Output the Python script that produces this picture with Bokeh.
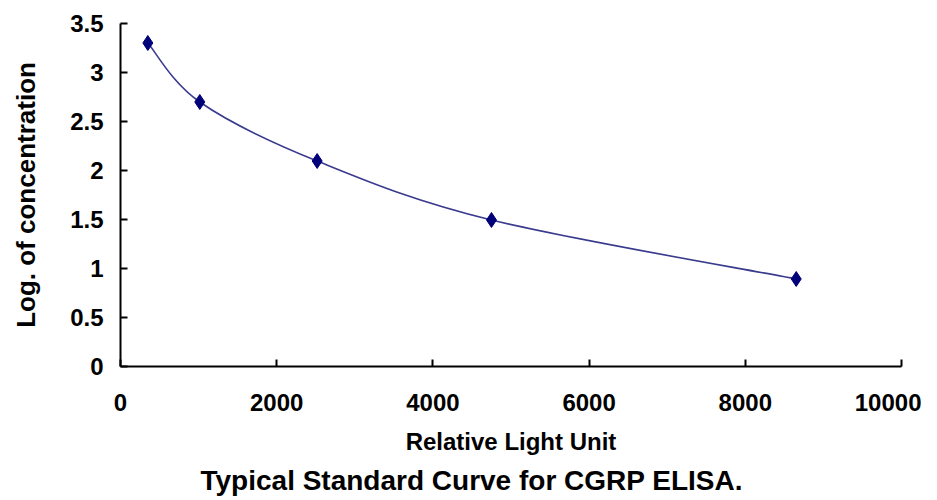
from bokeh.plotting import figure
from bokeh.models import Range1d, FixedTicker, Title
from bokeh.embed import file_html
from bokeh.resources import INLINE

# ---- data ----
rlu = [350, 1015, 2518, 4750, 8652]
log_conc = [3.301, 2.699, 2.097, 1.495, 0.893]
x_ticks = [0, 2000, 4000, 6000, 8000, 10000]
y_ticks = [0, 0.5, 1, 1.5, 2, 2.5, 3, 3.5]
y_tick_labels = ["0", "0.5", "1", "1.5", "2", "2.5", "3", "3.5"]
x_title = "Relative Light Unit"
y_title = "Log. of concentration"
caption = "Typical Standard Curve for CGRP ELISA."

FONT = "Liberation Sans"

p = figure(frame_width=781, frame_height=343,
           min_border_left=120, min_border_right=20,
           min_border_top=23, min_border_bottom=134,
           x_range=Range1d(0, 10000), y_range=Range1d(0, 3.5),
           output_backend="svg", toolbar_location=None)
p.outline_line_color = None
p.xgrid.visible = False
p.ygrid.visible = False
p.background_fill_color = "white"
p.border_fill_color = "white"

# smoothed line (Catmull-Rom bezier segments through the data points)
n = len(rlu)
x0s, y0s, x1s, y1s, cx0, cy0, cx1, cy1 = [], [], [], [], [], [], [], []
for i in range(n - 1):
    a = max(i - 1, 0)
    d = min(i + 2, n - 1)
    x0s.append(rlu[i]); y0s.append(log_conc[i])
    x1s.append(rlu[i + 1]); y1s.append(log_conc[i + 1])
    cx0.append(rlu[i] + (rlu[i + 1] - rlu[a]) / 6)
    cy0.append(log_conc[i] + (log_conc[i + 1] - log_conc[a]) / 6)
    cx1.append(rlu[i + 1] - (rlu[d] - rlu[i]) / 6)
    cy1.append(log_conc[i + 1] - (log_conc[d] - log_conc[i]) / 6)
p.bezier(x0=x0s, y0=y0s, x1=x1s, y1=y1s, cx0=cx0, cy0=cy0, cx1=cx1, cy1=cy1,
         line_color="#3a3a8e", line_width=1.6)

p.scatter(rlu, log_conc, marker="diamond", size=15,
          fill_color="#00007a", line_color="#00007a")

for ax in (p.xaxis[0], p.yaxis[0]):
    ax.axis_line_color = "black"
    ax.axis_line_width = 2
    ax.major_tick_line_color = "black"
    ax.major_tick_line_width = 2
    ax.major_tick_in = 7
    ax.major_tick_out = 0
    ax.minor_tick_line_color = None
    ax.major_label_text_font = FONT
    ax.major_label_text_font_style = "bold"
    ax.major_label_text_font_size = "24px"
    ax.major_label_text_color = "black"
    ax.axis_label_text_font = FONT
    ax.axis_label_text_font_style = "bold"
    ax.axis_label_text_color = "black"

p.xaxis.ticker = FixedTicker(ticks=x_ticks)
p.yaxis.ticker = FixedTicker(ticks=y_ticks)
p.yaxis.major_label_overrides = {t: l for t, l in zip(y_ticks, y_tick_labels)}
p.xaxis.major_label_standoff = 27
p.yaxis.major_label_standoff = 17
p.xaxis.axis_label = x_title
p.yaxis.axis_label = y_title
p.xaxis.axis_label_text_font_size = "24px"
p.yaxis.axis_label_text_font_size = "26px"
p.xaxis.axis_label_standoff = 14
p.yaxis.axis_label_standoff = 26

cap = Title(text=caption, align="left", offset=80,
            text_font=FONT, text_font_style="bold", text_font_size="28px",
            text_color="black")
p.add_layout(cap, "below")

open("out.html", "w").write(file_html(p, INLINE))
